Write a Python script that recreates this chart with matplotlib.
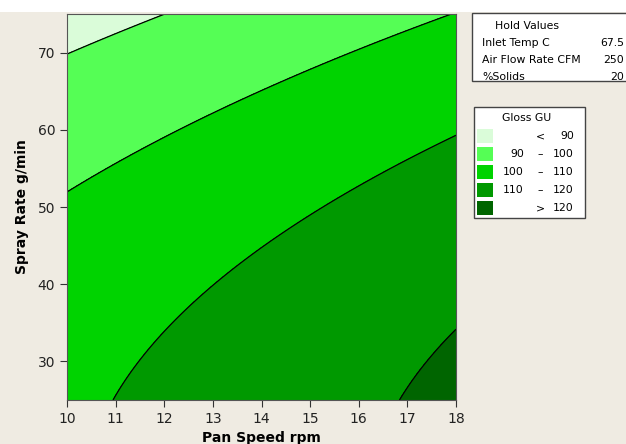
import numpy as np
import matplotlib
matplotlib.use("Agg")
import matplotlib.pyplot as plt
from matplotlib.patches import Rectangle

# points (pan speed, spray rate, gloss level)
pts_x = [10.0, 11.1, 12.0,
         10.0, 11.23, 13.3, 15.35, 17.85,
         11.0, 11.91, 13.3, 15.35, 16.71, 18.0,
         16.85, 17.4, 18.0]
pts_y = [70.0, 72.7, 75.0,
         51.7, 56.5, 62.6, 68.6, 75.0,
         25.0, 33.6, 42.3, 50.0, 55.7, 59.1,
         25.0, 30.2, 33.85]
pts_g = [90, 90, 90,
         100, 100, 100, 100, 100,
         110, 110, 110, 110, 110, 110,
         120, 120, 120]

levels = [60, 90, 100, 110, 120, 160]
colors = ["#dafcd9", "#55fe55", "#00d300", "#009900", "#006500"]
leg_low = ["", "90", "100", "110", ""]
leg_mid = ["<", "\u2013", "\u2013", "\u2013", ">"]
leg_high = ["90", "100", "110", "120", "120"]

hold_names = ["Inlet Temp C", "Air Flow Rate CFM", "%Solids"]
hold_vals = ["67.5", "250", "20"]

# quadratic response surface through the read points
px = np.array(pts_x) - 14
py = np.array(pts_y) - 50
A = np.column_stack([np.ones_like(px), px, py, px**2, py**2, px*py])
coef, *_ = np.linalg.lstsq(A, np.array(pts_g, float), rcond=None)

xs = np.linspace(10, 18, 300)
ys = np.linspace(25, 75, 300)
X, Y = np.meshgrid(xs, ys)
u, v = X - 14, Y - 50
Z = coef[0] + coef[1]*u + coef[2]*v + coef[3]*u**2 + coef[4]*v**2 + coef[5]*u*v

bg = "#efebe2"
fig = plt.figure(figsize=(6.26, 4.44), dpi=100, facecolor=bg)
fig.patches.append(Rectangle((0, 1 - 12/444), 1, 12/444, transform=fig.transFigure,
                             facecolor="white", edgecolor="none", zorder=-1))
ax = fig.add_axes([67/626, 44/444, 389/626, 386/444])
ax.contourf(X, Y, Z, levels=levels, colors=colors)
ax.contour(X, Y, Z, levels=levels[1:-1], colors="black", linewidths=0.9)
ax.set_xlim(10, 18)
ax.set_ylim(25, 75)
ax.set_xticks(range(10, 19))
ax.set_yticks([30, 40, 50, 60, 70])
for s in ax.spines.values():
    s.set_color("#555555")
ax.tick_params(colors="#333333", labelsize=10, length=5, labelcolor="#222222")
ax.set_xlabel("Pan Speed rpm", fontsize=10, fontweight="bold", labelpad=4)
ax.set_ylabel("Spray Rate g/min", fontsize=10, fontweight="bold", labelpad=6)

def fx(p):
    return p / 626

def fy(p):
    return 1 - p / 444

# hold values box
fig.patches.append(Rectangle((fx(472), fy(81)), fx(200), 68/444, transform=fig.transFigure,
                             facecolor="white", edgecolor="#444444", lw=1))
fig.text(fx(527), fy(26), "Hold Values", ha="center", va="center", fontsize=7.8)
for i, (n, val) in enumerate(zip(hold_names, hold_vals)):
    yy = fy(43 + 17 * i)
    fig.text(fx(482), yy, n, ha="left", va="center", fontsize=7.8)
    fig.text(fx(624), yy, val, ha="right", va="center", fontsize=7.8)

# legend box
fig.patches.append(Rectangle((fx(474), fy(218)), fx(111), 111/444, transform=fig.transFigure,
                             facecolor="white", edgecolor="#444444", lw=1))
fig.text(fx(527), fy(118), "Gloss GU", ha="center", va="center", fontsize=7.8)
for i in range(len(colors)):
    yc = 136 + 18 * i
    fig.patches.append(Rectangle((fx(477), fy(yc + 7)), fx(16), 14/444,
                                 transform=fig.transFigure, facecolor=colors[i],
                                 edgecolor="none"))
    fig.text(fx(524), fy(yc), leg_low[i], ha="right", va="center", fontsize=7.8)
    fig.text(fx(540), fy(yc), leg_mid[i], ha="center", va="center", fontsize=7.8)
    fig.text(fx(574), fy(yc), leg_high[i], ha="right", va="center", fontsize=7.8)

fig.savefig("out.png", dpi=100, facecolor=bg)
